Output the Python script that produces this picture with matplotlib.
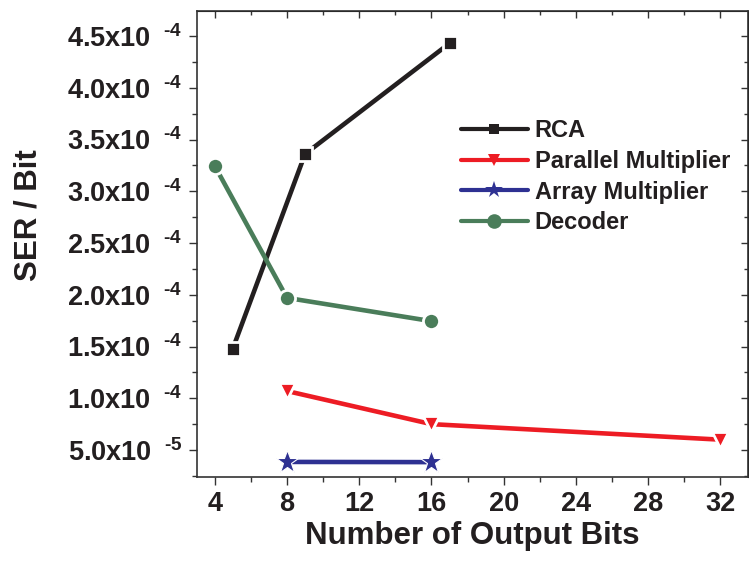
import numpy as np
import matplotlib
matplotlib.use('Agg')
import matplotlib.pyplot as plt
from matplotlib.lines import Line2D
from matplotlib.ticker import MultipleLocator, FuncFormatter

plt.rcParams['font.family'] = ['Liberation Sans', 'DejaVu Sans']
plt.rcParams['font.weight'] = 'bold'
plt.rcParams['mathtext.fontset'] = 'custom'
plt.rcParams['mathtext.rm'] = 'Liberation Sans:bold'
plt.rcParams['mathtext.bf'] = 'Liberation Sans:bold'
plt.rcParams['mathtext.it'] = 'Liberation Sans:bold'

# 数据
rca_x = [5, 9, 17]
rca_y = [1.48e-4, 3.36e-4, 4.43e-4]
par_x = [8, 16, 32]
par_y = [1.07e-4, 7.5e-5, 6.0e-5]
arr_x = [8, 16]
arr_y = [3.85e-5, 3.83e-5]
dec_x = [4, 8, 16]
dec_y = [3.245e-4, 1.97e-4, 1.745e-4]

# 名称, x, y, 颜色, 标记, 标记大小, 白边宽度, 图例标记大小
series = [
    ("RCA", rca_x, rca_y, '#231F20', 's', 10.2, 2.0, 6.5),
    ("Parallel Multiplier", par_x, par_y, '#ED1C24', 'v', 12, 2.0, 9),
    ("Array Multiplier", arr_x, arr_y, '#2E3192', '*', 17, 0.8, 13),
    ("Decoder", dec_x, dec_y, '#4A7D5A', 'o', 11.6, 2.0, 10.5),
]

fig = plt.figure(figsize=(7.49, 5.61), dpi=100)
ax = fig.add_axes([0.2626, 0.1506, 0.7367, 0.8304])

handles = []
for name, xs, ys, c, m, ms, mew, lms in series:
    ax.plot(xs, ys, color=c, lw=3.3, marker=m, ms=ms,
            mfc=c, mec='white', mew=mew, solid_capstyle='round')
    handles.append(Line2D([], [], color=c, lw=3.0, marker=m, ms=lms,
                          mfc=c, mec=c, mew=0, solid_capstyle='round'))

ax.set_xlim(3, 33.55)
ax.set_ylim(2.44e-5, 4.745e-4)

ax.xaxis.set_major_locator(MultipleLocator(4))
ax.xaxis.set_minor_locator(MultipleLocator(2))
ax.yaxis.set_major_locator(MultipleLocator(5e-5))
ax.yaxis.set_minor_locator(MultipleLocator(2.5e-5))


def sci_fmt(v, pos):
    if v <= 0:
        return ''
    e = int(np.floor(np.log10(v) + 1e-9))
    m = v / 10 ** e
    return r'$\mathbf{%.1fx10}^{\enspace\;\text{%d}}$' % (m, e)


ax.yaxis.set_major_formatter(FuncFormatter(sci_fmt))

ax.tick_params(which='major', direction='out', length=5.8, width=1.0,
               labelsize=19.5, color='#333333', labelcolor='#231F20')
ax.tick_params(which='minor', direction='out', length=3.3, width=1.0,
               color='#333333')
ax.tick_params(axis='x', pad=4.3)
ax.tick_params(axis='y', pad=4.5)

for s in ax.spines.values():
    s.set_linewidth(1.2)
    s.set_color('#333333')

# 上方和右侧的内向刻度
top = ax.secondary_xaxis('top')
top.xaxis.set_major_locator(MultipleLocator(4))
top.xaxis.set_minor_locator(MultipleLocator(2))
top.tick_params(which='major', direction='in', length=5, width=1.0,
                labeltop=False, color='#333333')
top.tick_params(which='minor', direction='in', length=3, width=1.0,
                color='#333333')
right = ax.secondary_yaxis('right')
right.yaxis.set_major_locator(MultipleLocator(5e-5))
right.yaxis.set_minor_locator(MultipleLocator(2.5e-5))
right.tick_params(which='major', direction='in', length=5, width=1.0,
                  labelright=False, color='#333333')
right.tick_params(which='minor', direction='in', length=3, width=1.0,
                  color='#333333')

ax.set_xlabel("Number of Output Bits", fontsize=22.5, fontweight='bold',
              color='#231F20', labelpad=3)
ax.set_ylabel("SER / Bit", fontsize=22.5, fontweight='bold', color='#231F20')
ax.yaxis.set_label_coords(-0.278, 0.562)

leg = ax.legend(handles, [s[0] for s in series], loc='upper left',
                bbox_to_anchor=(460.7 / 749, 1 - 119.0 / 561),
                bbox_transform=fig.transFigure, frameon=False,
                fontsize=17, handlelength=2.85, handletextpad=0.29,
                labelspacing=0.33, borderpad=0, borderaxespad=0,
                numpoints=1)
for t in leg.get_texts():
    t.set_color('#231F20')

fig.savefig('out.png', dpi=100)
